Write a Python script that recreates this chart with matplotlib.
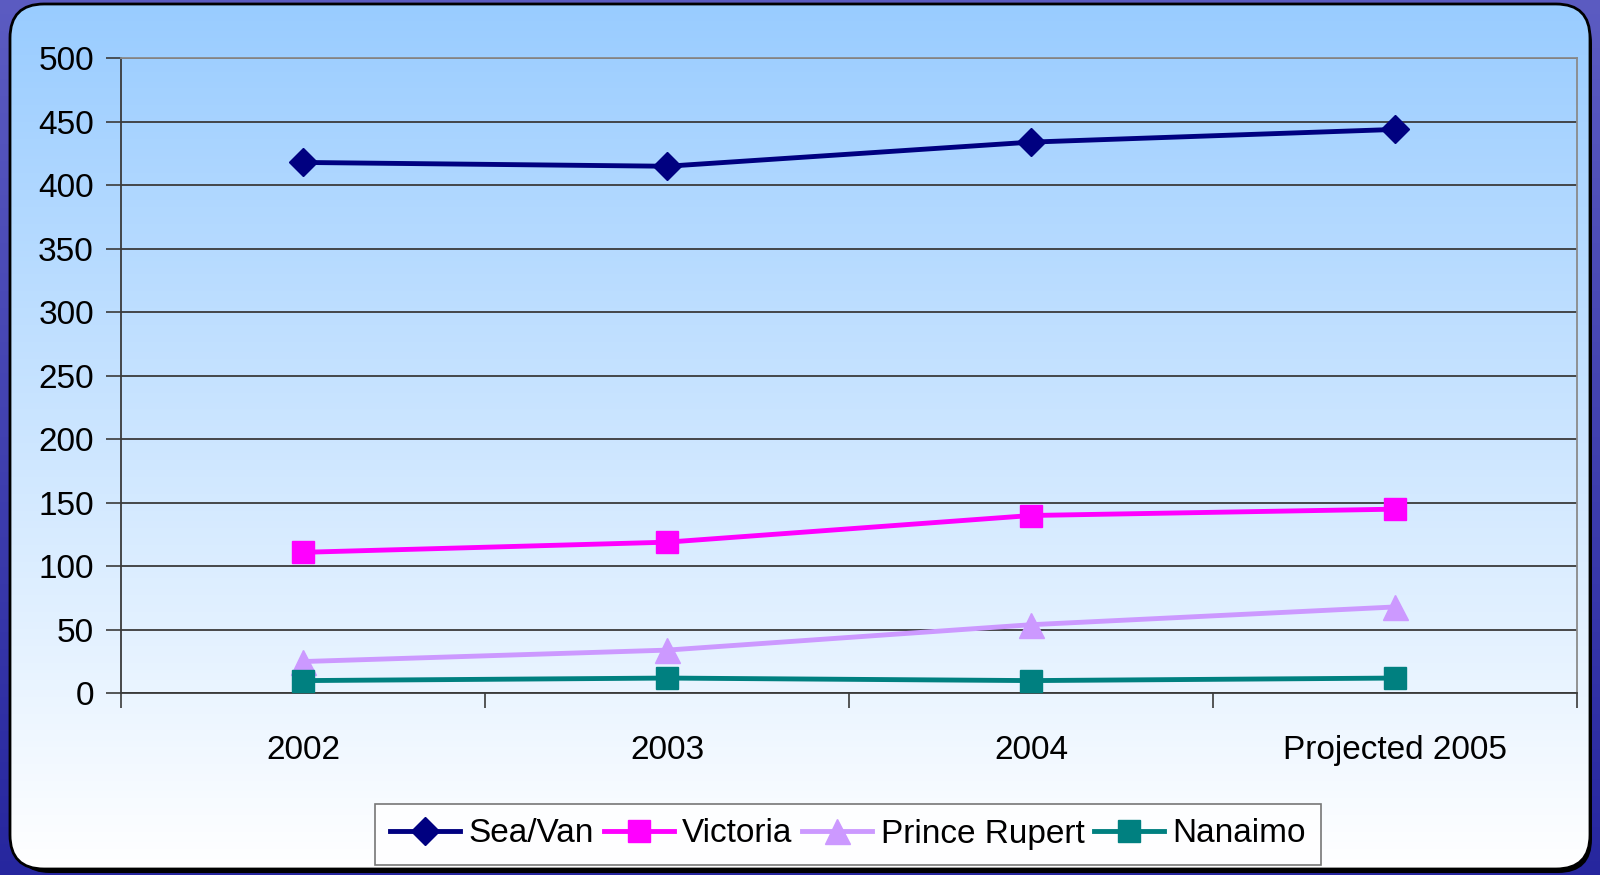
import numpy as np
import matplotlib.pyplot as plt
from matplotlib.patches import FancyBboxPatch

plt.rcParams['font.family'] = ['Liberation Sans', 'DejaVu Sans']

# data
years = ['2002', '2003', '2004', 'Projected 2005']
sea_van = [418, 415, 434, 444]
victoria = [111, 119, 140, 145]
prince_rupert = [25, 34, 54, 68]
nanaimo = [10, 12, 10, 12]

W, H = 1600, 875
fig = plt.figure(figsize=(16, 8.75), dpi=100)
fig.patch.set_facecolor('#3434b0')

# background: rounded panel with blue->white gradient
bg = fig.add_axes([0, 0, 1, 1], zorder=-5)
bg.set_xlim(0, W)
bg.set_ylim(H, 0)
bg.axis('off')
outer = np.linspace(0, 1, 256).reshape(-1, 1)
outer_cols = np.array([[0.36, 0.36, 0.76]]) * (1 - outer) + np.array([[0.15, 0.15, 0.62]]) * outer
bg.imshow(outer_cols.reshape(256, 1, 3), extent=[0, W, H, 0], aspect='auto', zorder=0)

shadow = FancyBboxPatch((16, 10), W - 24, H - 12, boxstyle='round,pad=0,rounding_size=34',
                        facecolor='black', edgecolor='none', zorder=1)
bg.add_patch(shadow)
panel = FancyBboxPatch((10, 4), W - 20, H - 10, boxstyle='round,pad=0,rounding_size=34',
                       facecolor='none', edgecolor='black', linewidth=2, zorder=3)
bg.add_patch(panel)
g = np.linspace(0, 1, 256).reshape(-1, 1)
top_c = np.array([0.60, 0.80, 1.0])
bot_c = np.array([1.0, 1.0, 1.0])
grad = (top_c * (1 - g) + bot_c * g).reshape(256, 1, 3)
im = bg.imshow(grad, extent=[10, W - 10, H - 6, 4], aspect='auto', zorder=2)
im.set_clip_path(panel)

# main plot area
ax = fig.add_axes([121 / W, 1 - 693.3 / H, (1577 - 121) / W, (693.3 - 58.3) / H])
ax.patch.set_alpha(0)
x = np.arange(len(years))

ax.plot(x, sea_van, color='#000080', lw=3.5, marker='D', ms=14, label='Sea/Van', zorder=5)
ax.plot(x, victoria, color='#ff00ff', lw=3.5, marker='s', ms=15.5, label='Victoria', zorder=5)
ax.plot(x, prince_rupert, color='#cc99ff', lw=3.5, marker='^', ms=18, label='Prince Rupert', zorder=5)
ax.plot(x, nanaimo, color='#008080', lw=3.5, marker='s', ms=15.5, label='Nanaimo', zorder=6)

ax.set_xlim(-0.5, len(years) - 0.5)
ax.set_ylim(0, 500)
ax.set_yticks(np.arange(0, 501, 50))
ax.yaxis.grid(True, color='#3a3a3a', lw=1.3)
ax.set_axisbelow(True)

ax.set_xticks(np.arange(-0.5, len(years)), labels=[''] * (len(years) + 1))
ax.set_xticks(x, labels=years, minor=True)
ax.tick_params(axis='x', which='major', length=11, width=1.2, color='#3a3a3a', direction='out')
ax.tick_params(axis='x', which='minor', length=0, pad=30, labelsize=24)
ax.tick_params(axis='y', length=11, width=1.2, color='#3a3a3a', pad=8.5, labelsize=24)

for side in ['left', 'bottom']:
    ax.spines[side].set_color('#3a3a3a')
    ax.spines[side].set_linewidth(1.3)
for side in ['top', 'right']:
    ax.spines[side].set_color('#8a8a8a')
    ax.spines[side].set_linewidth(1.3)

leg = fig.legend(loc='center', bbox_to_anchor=(848 / W, 1 - 834 / H), ncol=4,
                 fontsize=24, frameon=True, fancybox=False, edgecolor='#555555',
                 handlelength=2.1, handletextpad=0.25, columnspacing=0.3,
                 borderpad=0.45, borderaxespad=0)
leg.get_frame().set_linewidth(1.2)
leg.get_frame().set_facecolor('white')

fig.savefig('out.png', dpi=100, facecolor=fig.get_facecolor())
